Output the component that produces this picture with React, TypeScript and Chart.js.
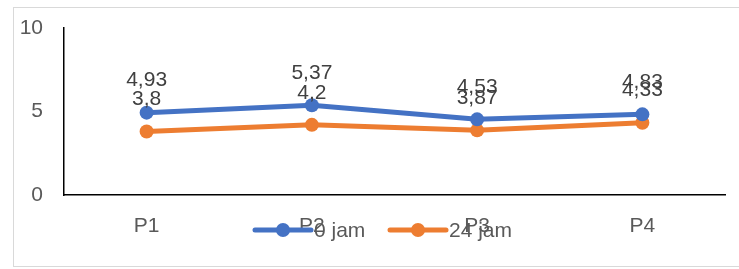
import React, { useEffect, useRef } from "react";
import { Chart, registerables } from "chart.js";

Chart.register(...registerables);

const categories = ["P1", "P2", "P3", "P4"];
const series0jam = [4.93, 5.37, 4.53, 4.83];
const series24jam = [3.8, 4.2, 3.87, 4.33];
const seriesNames = ["0 jam", "24 jam"];
const yTicks = [0, 5, 10];

const BLUE = "#4472C4";
const ORANGE = "#ED7D31";
const FONT = "'Liberation Sans', 'DejaVu Sans', sans-serif";

const fmt = (v: number) => String(v).replace(".", ",");

const decorPlugin = {
  id: "decor",
  beforeDraw(chart: any) {
    const ctx = chart.ctx;
    ctx.save();
    ctx.strokeStyle = "#d9d9d9";
    ctx.lineWidth = 1;
    ctx.strokeRect(13.5, 7.5, 800, 259);
    ctx.restore();
  },
  afterDatasetsDraw(chart: any) {
    const ctx = chart.ctx;
    ctx.save();
    ctx.font = `21px ${FONT}`;
    ctx.fillStyle = "#404040";
    ctx.textAlign = "center";
    ctx.textBaseline = "middle";
    chart.data.datasets.forEach((ds: any, i: number) => {
      const meta = chart.getDatasetMeta(i);
      meta.data.forEach((pt: any, j: number) => {
        ctx.fillText(fmt(ds.data[j]), pt.x, pt.y - 32);
      });
    });
    ctx.restore();
  },
  afterDraw(chart: any) {
    const ctx = chart.ctx;
    ctx.save();
    ctx.font = `21px ${FONT}`;
    ctx.textBaseline = "middle";
    ctx.textAlign = "left";
    const colors = [BLUE, ORANGE];
    const starts = [255, 390];
    const y = 230;
    seriesNames.forEach((name, i) => {
      const x = starts[i];
      ctx.strokeStyle = colors[i];
      ctx.lineWidth = 5;
      ctx.lineCap = "round";
      ctx.beginPath();
      ctx.moveTo(x, y);
      ctx.lineTo(x + 56, y);
      ctx.stroke();
      ctx.fillStyle = colors[i];
      ctx.beginPath();
      ctx.arc(x + 28, y, 7, 0, Math.PI * 2);
      ctx.fill();
      ctx.fillStyle = "#595959";
      ctx.fillText(name, x + 59, y + 1);
    });
    ctx.restore();
  },
};

export default function App() {
  const ref = useRef<HTMLCanvasElement | null>(null);
  useEffect(() => {
    document.body.style.margin = "0";
    const canvas = ref.current;
    if (!canvas) return;
    const chart = new Chart(canvas, {
      type: "line",
      data: {
        labels: categories,
        datasets: [
          {
            label: seriesNames[0],
            data: series0jam,
            borderColor: BLUE,
            backgroundColor: BLUE,
            borderWidth: 5,
            pointRadius: 7,
            pointHoverRadius: 7,
            pointBorderWidth: 0,
            tension: 0,
          },
          {
            label: seriesNames[1],
            data: series24jam,
            borderColor: ORANGE,
            backgroundColor: ORANGE,
            borderWidth: 5,
            pointRadius: 7,
            pointHoverRadius: 7,
            pointBorderWidth: 0,
            tension: 0,
          },
        ],
      },
      options: {
        animation: false,
        responsive: false,
        layout: { padding: { top: 28, right: 14, left: 0, bottom: 0 } },
        plugins: {
          legend: { display: false },
          tooltip: { enabled: false },
        },
        scales: {
          x: {
            offset: true,
            grid: { color: "transparent", drawTicks: false },
            border: { color: "#000", width: 1.5 },
            ticks: {
              color: "#595959",
              font: { family: FONT, size: 21 },
              padding: 19,
            },
            afterFit: (s: any) => {
              s.height = 74;
              s.paddingLeft = 0;
              s.paddingRight = 0;
            },
          },
          y: {
            min: 0,
            max: 10,
            grid: { color: "transparent", drawTicks: false },
            border: { color: "#000", width: 1.5 },
            afterBuildTicks: (s: any) => {
              s.ticks = yTicks.map((v) => ({ value: v }));
            },
            ticks: {
              color: "#595959",
              font: { family: FONT, size: 21 },
              padding: 21,
            },
            afterFit: (s: any) => {
              s.width = 64;
              s.paddingTop = 0;
              s.paddingBottom = 0;
            },
          },
        },
      },
      plugins: [decorPlugin],
    });
    return () => chart.destroy();
  }, []);
  return (
    <div style={{ width: 739, height: 269 }}>
      <canvas ref={ref} width={739} height={269} />
    </div>
  );
}
